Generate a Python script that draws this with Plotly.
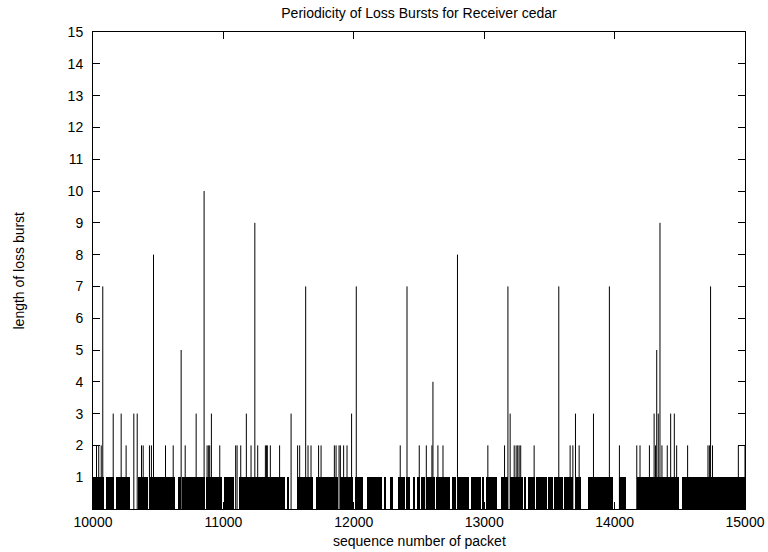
import plotly.graph_objects as go

# Single-packet losses: spans of sequence numbers where 1-packet bursts occur densely
single_start = [10000, 10098, 10175, 10343, 10435, 10650, 10686, 10870, 11008, 11117,
                11490, 11562, 11710, 11897, 12012, 12098, 12239, 12277, 12341, 12401,
                12451, 12484, 12517, 12554, 12632, 12753, 12799, 12900, 12990, 13010,
                13130, 13194, 13309, 13335, 13399, 13493, 13539, 13615, 13705, 13797,
                14035, 14170, 14518]
single_end = [10088, 10159, 10282, 10420, 10625, 10671, 10858, 10990, 11079, 11473,
              11506, 11690, 11881, 11996, 12073, 12213, 12249, 12303, 12395, 12431,
              12472, 12504, 12548, 12619, 12740, 12786, 12887, 12977, 13000, 13100,
              13182, 13301, 13322, 13386, 13481, 13527, 13603, 13680, 13740, 13989,
              14086, 14494, 15000]

# Longer loss bursts (sequence number, burst length)
burst_seq = [10027, 10044, 10063, 10075, 10155, 10216, 10254, 10313, 10339, 10372,
             10385, 10433, 10448, 10464, 10556, 10615, 10676, 10707, 10791, 10852,
             10875, 10887, 10895, 10908, 10972, 11094, 11105, 11133, 11176, 11212,
             11241, 11263, 11322, 11330, 11337, 11360, 11431, 11519, 11569, 11585,
             11631, 11649, 11672, 11730, 11749, 11851, 11864, 11887, 11897, 11922,
             11948, 11983, 12019, 12356, 12408, 12502, 12556, 12599, 12607, 12645,
             12684, 12795, 13028, 13156, 13182, 13199, 13230, 13245, 13257, 13268,
             13280, 13383, 13572, 13659, 13680, 13700, 13728, 13838, 13960, 14037,
             14170, 14195, 14267, 14303, 14314, 14323, 14335, 14348, 14363, 14404,
             14430, 14458, 14476, 14560, 14716, 14727, 14736, 14751, 14949, 15000]
burst_len = [2, 2, 2, 7, 3, 3, 2, 3, 3, 2,
             2, 2, 2, 8, 2, 2, 5, 2, 3, 10,
             2, 2, 2, 3, 2, 2, 2, 2, 3, 2,
             9, 2, 2, 2, 2, 2, 2, 3, 2, 2,
             7, 2, 2, 2, 2, 2, 2, 2, 2, 2,
             2, 3, 7, 2, 7, 2, 2, 2, 4, 2,
             2, 8, 2, 2, 7, 3, 2, 2, 2, 2,
             2, 2, 7, 2, 2, 3, 2, 3, 7, 2,
             2, 2, 2, 3, 2, 5, 3, 9, 2, 2,
             3, 3, 2, 2, 2, 2, 7, 2, 2, 2]

x_ticks = [10000, 11000, 12000, 13000, 14000, 15000]
y_ticks = list(range(1, 16))

FONT = "Liberation Sans, Arial, Helvetica, sans-serif"

fig = go.Figure()

# dense single-loss spans as height-1 blocks
centers = [(a + b) / 2 for a, b in zip(single_start, single_end)]
widths = [b - a for a, b in zip(single_start, single_end)]
fig.add_trace(go.Bar(x=centers, y=[1] * len(centers), width=widths,
                     marker=dict(color="black", line=dict(width=0)),
                     hoverinfo="skip", showlegend=False))

# impulses
ix, iy = [], []
for s, v in zip(burst_seq, burst_len):
    ix += [s, s, None]
    iy += [0, v, None]
fig.add_trace(go.Scatter(x=ix, y=iy, mode="lines",
                         line=dict(color="black", width=1),
                         hoverinfo="skip", showlegend=False))

axis_common = dict(showline=True, linecolor="black", linewidth=1, mirror="ticks",
                   ticks="inside", ticklen=7, tickcolor="black", tickwidth=1,
                   showgrid=False, zeroline=False,
                   tickfont=dict(family=FONT, size=14, color="black"))

fig.update_xaxes(range=[10000, 15000], tickvals=x_ticks,
                 ticktext=[str(t) for t in x_ticks], ticklabelstandoff=0,
                 **axis_common)
fig.update_yaxes(range=[0, 15], tickvals=y_ticks,
                 ticktext=[str(t) for t in y_ticks], ticklabelstandoff=6,
                 **axis_common)

fig.update_layout(
    width=768, height=552,
    margin=dict(l=93, r=23, t=32, b=43, autoexpand=False),
    paper_bgcolor="white", plot_bgcolor="white",
    bargap=0, barmode="overlay",
    title=dict(text="Periodicity of Loss Bursts for Receiver cedar",
               font=dict(family=FONT, size=14, color="black"),
               x=0.5, xref="paper", y=1 - 13 / 552, yref="container",
               xanchor="center", yanchor="middle"),
    annotations=[
        dict(text="sequence number of packet", xref="paper", yref="paper",
             x=0.5, y=-(541 - 509) / 477, xanchor="center", yanchor="middle",
             showarrow=False, font=dict(family=FONT, size=14, color="black")),
        dict(text="length of loss burst", xref="paper", yref="paper",
             x=-(93 - 18) / 652, y=0.5, xanchor="center", yanchor="middle",
             textangle=-90, showarrow=False,
             font=dict(family=FONT, size=14, color="black")),
    ],
)

fig.write_html("out.html", config={"displayModeBar": False},
               post_script="document.body.style.margin='0';document.body.style.padding='0';")
